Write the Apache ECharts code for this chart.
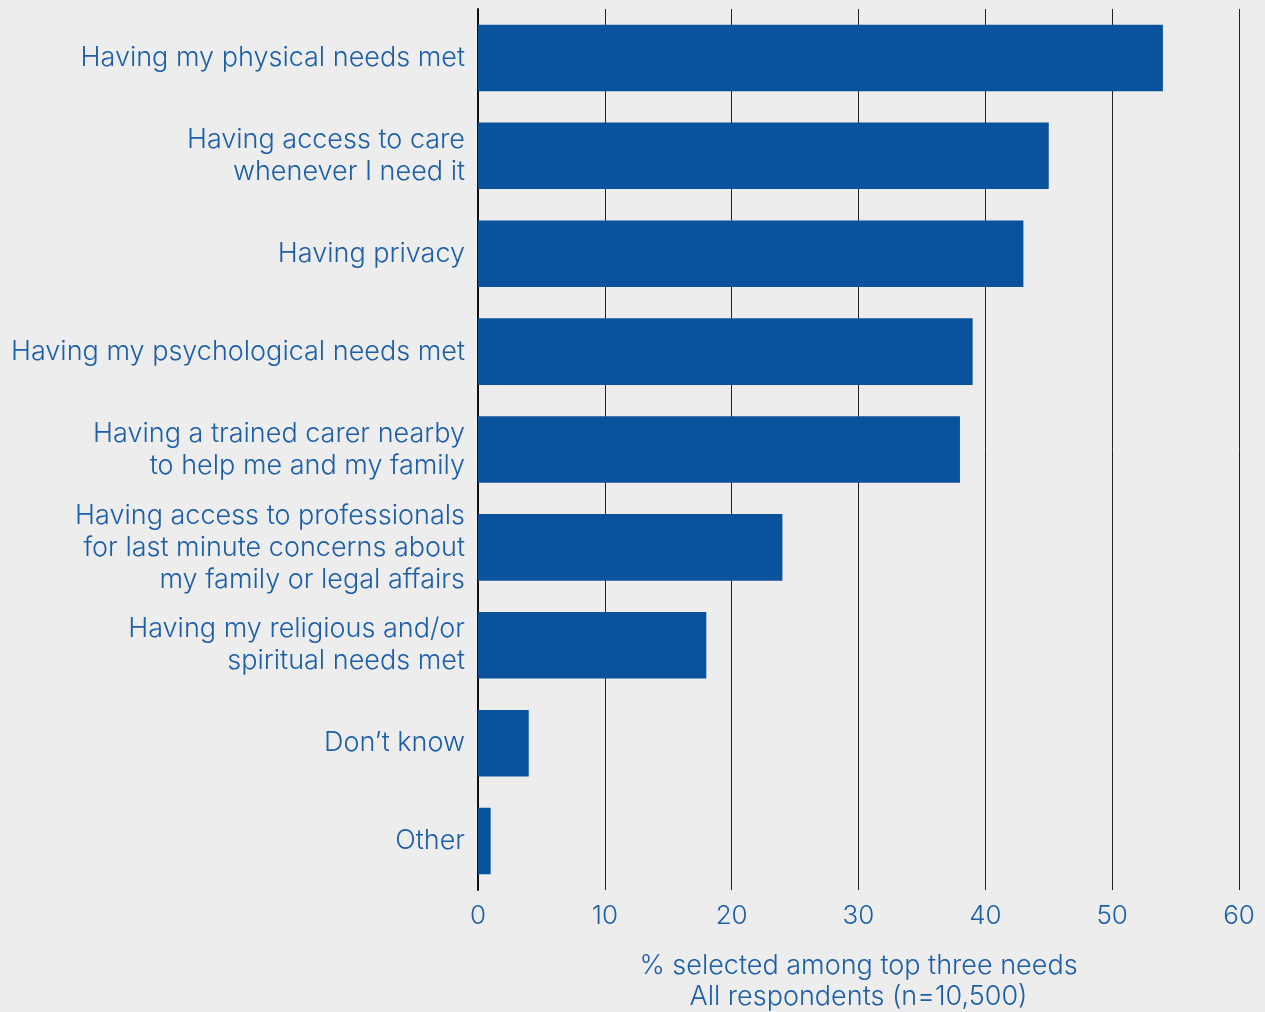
<!DOCTYPE html>
<html><head><meta charset="utf-8">
<script src="https://cdn.jsdelivr.net/npm/echarts@6/dist/echarts.min.js"></script>
<style>html,body{margin:0;padding:0;background:#ededed;}#c{width:1265px;height:1012px;}</style>
</head><body><div id="c"></div>
<script>
const categories = [
  "Having my physical needs met",
  "Having access to care\nwhenever I need it",
  "Having privacy",
  "Having my psychological needs met",
  "Having a trained carer nearby\nto help me and my family",
  "Having access to professionals\nfor last minute concerns about\nmy family or legal affairs",
  "Having my religious and/or\nspiritual needs met",
  "Don\u2019t know",
  "Other"
];
const values = [54, 45, 43, 39, 38, 24, 18, 4, 1];
const xTicks = [0, 10, 20, 30, 40, 50, 60];
const xTitle = "% selected among top three needs\nAll respondents (n=10,500)";

const textColor = "#1c5ea8";
const font = "Inter, 'Open Sans', sans-serif";
const chart = echarts.init(document.getElementById('c'), null, {renderer: 'canvas'});
chart.setOption({
  backgroundColor: '#ededed',
  animation: false,
  grid: {left: 478, right: 26, top: 9, bottom: 122, containLabel: false, outerBoundsMode: 'none'},
  xAxis: {
    type: 'value', min: xTicks[0], max: xTicks[xTicks.length-1], interval: 10,
    axisLine: {show: false}, axisTick: {show: false},
    splitLine: {show: true, lineStyle: {color: '#222', width: 1}},
    axisLabel: {color: textColor, fontSize: 26, fontWeight: 300, fontFamily: font, margin: 13},
    name: xTitle, nameLocation: 'middle', nameGap: 60,
    nameTextStyle: {color: textColor, fontSize: 27, fontWeight: 300, fontFamily: font, lineHeight: 31}
  },
  yAxis: {
    type: 'category', data: categories, inverse: true,
    axisLine: {show: true, lineStyle: {color: '#111', width: 2}},
    axisTick: {show: false},
    axisLabel: {color: textColor, fontSize: 27, fontWeight: 300, fontFamily: font, lineHeight: 32, margin: 13, align: 'right'}
  },
  series: [{
    type: 'bar', data: values, barCategoryGap: '32%',
    itemStyle: {color: '#0b529c'}
  }]
});
</script></body></html>
